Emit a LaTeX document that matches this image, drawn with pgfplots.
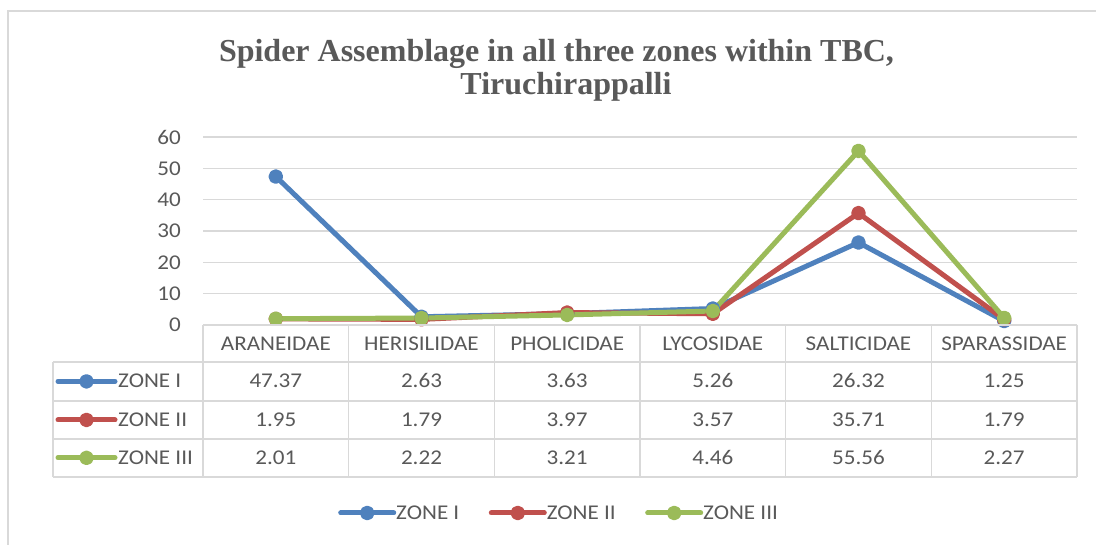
\documentclass[border=0pt]{standalone}
\usepackage{fontspec}
\usepackage{pgfplots}
\usepackage{pgfplotstable}
\pgfplotsset{compat=1.18}
\setmainfont{Carlito}[FakeStretch=1.1]
\newfontfamily\titlefont{Liberation Serif}
\definecolor{txt}{HTML}{595959}
\definecolor{gridc}{HTML}{D9D9D9}
\definecolor{zblue}{HTML}{4F81BD}
\definecolor{zred}{HTML}{C0504D}
\definecolor{zgreen}{HTML}{9BBB59}
\newcommand{\tf}{\fontsize{21}{25}\selectfont}
\tikzset{zline/.style={line width=5pt, line join=round, line cap=round, mark=*, mark size=4.8pt, mark options={solid}}}

\pgfplotstableread{
x zI zII zIII
0 47.37 1.95 2.01
1 2.63 1.79 2.22
2 3.63 3.97 3.21
3 5.26 3.57 4.46
4 26.32 35.71 55.56
5 1.25 1.79 2.27
}\data

\begin{document}
\begin{tikzpicture}[x=1pt,y=1pt]
\useasboundingbox (0,0) rectangle (1096,544);
\fill[white] (0,0) rectangle (1096,544);
\draw[gridc, line width=1.3pt] (8,-2) -- (8,533) -- (1098,533);
\node[anchor=base, text=txt, font=\titlefont\bfseries\fontsize{32}{34}\selectfont, inner sep=0pt] at (556.5,482) {Spider Assemblage in all three zones within TBC,};
\node[anchor=base, text=txt, font=\titlefont\bfseries\fontsize{32}{34}\selectfont, inner sep=0pt] at (566,449) {Tiruchirappalli};

\begin{axis}[
  at={(203pt,219pt)}, anchor=south west,
  scale only axis, width=874pt, height=188pt,
  xmin=-0.5, xmax=5.5, ymin=0, ymax=60,
  axis x line*=bottom, axis y line*=left,
  axis line style={draw=none},
  tick style={draw=none},
  xtick=\empty,
  ytick={0,10,...,60},
  ymajorgrids,
  grid style={gridc, line width=1.3pt},
  /pgf/number format/assume math mode=true,
  yticklabel style={text=txt, font=\tf, inner sep=0pt, xshift=-22pt},
  clip=false,
  legend cell align=left,
  legend columns=3,
  legend style={at={(rel axis cs:0.1545,-1.0)}, anchor=west, draw=none, fill=none,
    inner sep=0pt, font=\tf, text=txt,
    nodes={inner sep=0pt},
    /tikz/every odd column/.append style={column sep=0pt},
    /tikz/every even column/.append style={column sep=29.5pt}},
  legend image code/.code={\draw[mark repeat=2,mark phase=2,line cap=round] plot coordinates {(0pt,0pt) (26.5pt,0pt) (53pt,0pt)};},
]
\addplot[zblue, zline] table[x=x,y=zI] {\data};
\addlegendentry{ZONE I}
\addplot[zred, zline] table[x=x,y=zII] {\data};
\addlegendentry{ZONE II}
\addplot[zgreen, zline] table[x=x,y=zIII] {\data};
\addlegendentry{ZONE III}
% table row keys
\addplot[zblue, zline, mark repeat=2, mark phase=2, forget plot] coordinates {(-1.4954,-18.0) (-1.2998,-18.0) (-1.1041,-18.0)};
\addplot[zred, zline, mark repeat=2, mark phase=2, forget plot] coordinates {(-1.4954,-30.3) (-1.2998,-30.3) (-1.1041,-30.3)};
\addplot[zgreen, zline, mark repeat=2, mark phase=2, forget plot] coordinates {(-1.4954,-42.4) (-1.2998,-42.4) (-1.1041,-42.4)};
\end{axis}

% data table grid
\begin{scope}[gridc, line width=1.3pt]
\draw (203,219) -- (1077,219);
\foreach \yy in {182,143,105,67} \draw (53,\yy) -- (1077,\yy);
\draw (53,182) -- (53,67);
\foreach \k in {0,...,6} \draw ({203+145.667*\k},219) -- ({203+145.667*\k},67);
\end{scope}

\foreach \n [count=\i from 0] in {ARANEIDAE,HERISILIDAE,PHOLICIDAE,LYCOSIDAE,SALTICIDAE,SPARASSIDAE}
  \node[anchor=base, text=txt, font=\tf, inner sep=0pt] at ({203+145.667*(\i+0.5)},193) {\n};

\node[anchor=base west, text=txt, font=\tf, inner sep=0pt] at (118,156) {ZONE I};
\node[anchor=base west, text=txt, font=\tf, inner sep=0pt] at (118,117) {ZONE II};
\node[anchor=base west, text=txt, font=\tf, inner sep=0pt] at (118,79) {ZONE III};

\foreach \i in {0,...,5} {
  \pgfplotstablegetelem{\i}{zI}\of\data
  \node[anchor=base, text=txt, font=\tf, inner sep=0pt] at ({203+145.667*(\i+0.5)},156) {\pgfplotsretval};
  \pgfplotstablegetelem{\i}{zII}\of\data
  \node[anchor=base, text=txt, font=\tf, inner sep=0pt] at ({203+145.667*(\i+0.5)},117) {\pgfplotsretval};
  \pgfplotstablegetelem{\i}{zIII}\of\data
  \node[anchor=base, text=txt, font=\tf, inner sep=0pt] at ({203+145.667*(\i+0.5)},79) {\pgfplotsretval};
}
\end{tikzpicture}
\end{document}
